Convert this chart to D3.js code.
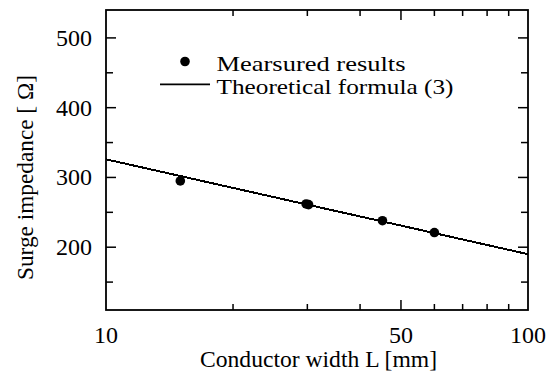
<!DOCTYPE html>
<html>
<head>
<meta charset="utf-8">
<script src="https://cdn.jsdelivr.net/npm/d3@7"></script>
<style>
  body { margin: 0; background: #fff; }
</style>
</head>
<body>
<svg id="chart" width="558" height="376" font-family="Liberation Serif"></svg>
<script>
// measured points (conductor width in mm, surge impedance in ohm)
const measWidth = [15, 29.8, 30.2, 45.2, 60];
const measZ = [295, 262, 261, 238, 221];

// theoretical formula (3)
const theoWidth = [10, 20, 30, 50, 100];
const theoZ = [326, 285, 261, 231, 190];

const yTicks = [200, 300, 400, 500];
const yMinor = [150, 250, 350, 450];
const xTicks = [10, 50, 100];
const xMinor = [20, 30, 40, 60, 70, 80, 90];

const svg = d3.select("#chart");
const pl = 106, pr = 528, pt = 10, pb = 310;

const x = d3.scaleLog().domain([10, 100]).range([pl, pr]);
const y = d3.scaleLinear().domain([110, 540]).range([pb, pt]);

// frame
svg.append("rect")
    .attr("x", pl).attr("y", pt)
    .attr("width", pr - pl).attr("height", pb - pt)
    .attr("fill", "none").attr("stroke", "#000").attr("stroke-width", 1.8);

// ticks, all pointing inside
const tickG = svg.append("g").attr("stroke", "#000").attr("stroke-width", 1.5);
function vTicks(vals, len) {
    vals.forEach(v => {
        tickG.append("line").attr("x1", x(v)).attr("x2", x(v)).attr("y1", pb).attr("y2", pb - len);
        tickG.append("line").attr("x1", x(v)).attr("x2", x(v)).attr("y1", pt).attr("y2", pt + len);
    });
}
function hTicks(vals, len) {
    vals.forEach(v => {
        tickG.append("line").attr("y1", y(v)).attr("y2", y(v)).attr("x1", pl).attr("x2", pl + len);
        tickG.append("line").attr("y1", y(v)).attr("y2", y(v)).attr("x1", pr).attr("x2", pr - len);
    });
}
vTicks(xTicks.slice(1, 2), 10);
vTicks(xMinor, 6);
hTicks(yTicks, 10);
hTicks(yMinor, 7);

// tick labels
svg.selectAll(".ylab").data(yTicks).enter().append("text")
    .attr("x", pl - 14).attr("y", d => y(d) + 8)
    .attr("text-anchor", "end").attr("font-size", 24)
    .text(d => d);
svg.selectAll(".xlab").data(xTicks).enter().append("text")
    .attr("x", d => x(d)).attr("y", 343)
    .attr("text-anchor", "middle").attr("font-size", 24)
    .text(d => d);

// axis titles
svg.append("text")
    .attr("x", 200).attr("y", 367)
    .attr("font-size", 24)
    .attr("textLength", 237).attr("lengthAdjust", "spacingAndGlyphs")
    .text("Conductor width L [mm]");

svg.append("text")
    .attr("transform", "translate(33,177.5) rotate(-90)")
    .attr("text-anchor", "middle").attr("font-size", 24)
    .attr("textLength", 205).attr("lengthAdjust", "spacingAndGlyphs")
    .text("Surge impedance [ \u03A9]");

// theoretical line
const line = d3.line().x((d, i) => x(theoWidth[i])).y(d => y(d));
svg.append("path")
    .datum(theoZ)
    .attr("d", line)
    .attr("fill", "none").attr("stroke", "#000").attr("stroke-width", 2)
    .attr("shape-rendering", "crispEdges");

// measured dots
svg.selectAll(".dot").data(measZ).enter().append("circle")
    .attr("cx", (d, i) => x(measWidth[i])).attr("cy", d => y(d))
    .attr("r", 4.8).attr("fill", "#000");

// legend
svg.append("circle").attr("cx", 185).attr("cy", 61.5).attr("r", 4.8).attr("fill", "#000");
svg.append("text").attr("x", 216.5).attr("y", 70.5).attr("font-size", 22)
    .attr("textLength", 189).attr("lengthAdjust", "spacingAndGlyphs")
    .text("Mearsured results");
svg.append("line").attr("x1", 160).attr("x2", 210).attr("y1", 84.3).attr("y2", 84.3)
    .attr("stroke", "#000").attr("stroke-width", 1.8);
svg.append("text").attr("x", 216.5).attr("y", 93.5).attr("font-size", 22)
    .attr("textLength", 237).attr("lengthAdjust", "spacingAndGlyphs")
    .text("Theoretical formula (3)");
</script>
</body>
</html>
